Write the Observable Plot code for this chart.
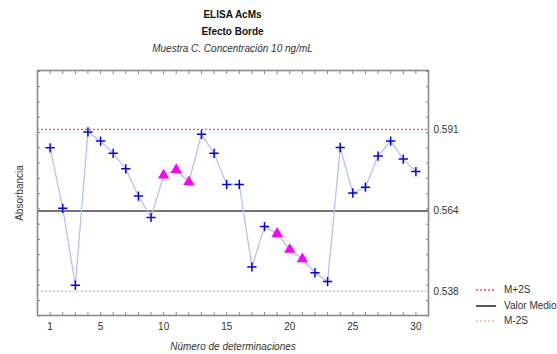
<!DOCTYPE html>
<html><head><meta charset="utf-8">
<script src="https://cdn.jsdelivr.net/npm/d3@7"></script>
<script src="https://cdn.jsdelivr.net/npm/@observablehq/plot@0.6"></script>
<style>
body{margin:0;background:#fff;font-family:"Liberation Sans",Arial,sans-serif;}
#wrap{position:relative;width:557px;height:354px;overflow:hidden;}
.t{position:absolute;left:37px;width:391px;text-align:center;color:#111;font-size:10px;}
.leg{position:absolute;left:476px;font-size:10px;color:#333;white-space:nowrap;}
.leg svg{vertical-align:middle;margin-right:8px;}
</style></head><body>
<div id="wrap">
<div class="t" style="top:9px;font-weight:bold;">ELISA AcMs</div>
<div class="t" style="top:26px;font-weight:bold;">Efecto Borde</div>
<div class="t" style="top:43px;font-style:italic;color:#333;">Muestra C. Concentración 10 ng/mL</div>
<div id="chart"></div>
<div id="legend"></div>
</div>
<script>
const determinacion = d3.range(1, 31);
const absorbancia = [0.5850,0.5652,0.5400,0.5902,0.5872,0.5832,0.5781,0.5692,0.5622,0.5760,
  0.5778,0.5738,0.5894,0.5832,0.5730,0.5730,0.5460,0.5592,0.5569,0.5517,
  0.5486,0.5441,0.5412,0.5851,0.5702,0.5721,0.5823,0.5872,0.5813,0.5772];
const marcados = [10,11,12,19,20,21];
const limites = {sup:0.5910, medio:0.5643, inf:0.5380};
const yTicks = [0.591, 0.5643, 0.538];
const yTickLabels = ["0.591","0.564","0.538"];
const xTicks = [1,5,10,15,20,25,30];
const legendItems = ["M+2S","Valor Medio","M-2S"];

const data = determinacion.map((d,i)=>({n:d, v:absorbancia[i], m:marcados.includes(d)}));
const minorY = d3.range(0.530, 0.6101, 0.005);
const font = "Liberation Sans, Arial, sans-serif";

const chart = Plot.plot({
  width:557, height:354,
  marginLeft:37, marginRight:129, marginTop:70, marginBottom:39,
  style:{fontFamily:font, fontSize:"10px", color:"#333", background:"transparent"},
  x:{domain:[0,31]},
  y:{domain:[0.5301,0.6103]},
  marks:[
    Plot.ruleY([limites.sup], {stroke:"#ff5050", strokeWidth:1.3, strokeDasharray:"2,2"}),
    Plot.ruleY([limites.medio], {stroke:"#444", strokeWidth:1.5}),
    Plot.ruleY([limites.inf], {stroke:"#ffb4a0", strokeWidth:1.3, strokeDasharray:"2,2"}),
    Plot.line(data, {x:"n", y:"v", stroke:"#b4bcff", strokeWidth:1.2}),
    Plot.dot(data.filter(d=>!d.m), {x:"n", y:"v", symbol:"plus", stroke:"#0000ff", strokeWidth:1.5, r:3.1}),
    Plot.dot(data.filter(d=>d.m), {x:"n", y:"v", symbol:"triangle", fill:"#ff00ff", stroke:"none", r:4.2}),
    Plot.axisX(determinacion, {anchor:"bottom", tickSize:-3, stroke:"#888", tickFormat:()=>"", label:null}),
    Plot.axisX(determinacion, {anchor:"top", tickSize:-3, stroke:"#888", tickFormat:()=>"", label:null}),
    Plot.axisX(xTicks, {anchor:"bottom", tickSize:0, tickPadding:7, fill:"#333", label:null}),
    Plot.axisX([], {anchor:"bottom", label:"Número de determinaciones", labelAnchor:"center", labelOffset:34, labelArrow:false, fontStyle:"italic", fill:"#333"}),
    Plot.axisY(minorY, {anchor:"left", tickSize:-3, stroke:"#888", tickFormat:()=>"", label:null}),
    Plot.axisY(minorY, {anchor:"right", tickSize:-3, stroke:"#888", tickFormat:()=>"", label:null}),
    Plot.axisY(yTicks, {anchor:"right", tickSize:0, tickPadding:5, fill:"#333", tickFormat:(d,i)=>yTickLabels[i], label:null}),
    Plot.axisY([], {anchor:"left", label:"Absorbancia", labelAnchor:"center", labelOffset:22, labelArrow:false, fill:"#333"}),
    Plot.frame({stroke:"#8a8a8a", strokeWidth:1.6})
  ]
});
document.getElementById("chart").appendChild(chart);

const leg = document.getElementById("legend");
const styles = [["#ff5050","2,2",1.3],["#444","",1.8],["#ffb4a0","2,2",1.3]];
legendItems.forEach((t,i)=>{
  const div = document.createElement("div");
  div.className = "leg";
  div.style.top = (284 + i*15.5) + "px";
  const [col,dash,w] = styles[i];
  div.innerHTML = `<svg width="20" height="6"><line x1="0" x2="20" y1="3" y2="3" stroke="${col}" stroke-width="${w}" stroke-dasharray="${dash}"/></svg>${t}`;
  leg.appendChild(div);
});
</script>
</body></html>
